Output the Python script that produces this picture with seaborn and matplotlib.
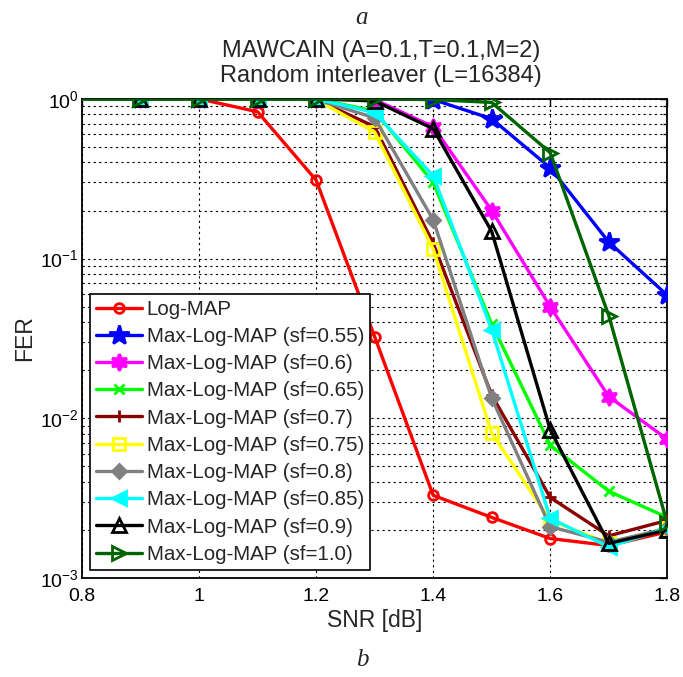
import numpy as np
import pandas as pd
import matplotlib
matplotlib.use("Agg")
import matplotlib.pyplot as plt
from matplotlib.ticker import LogLocator, NullFormatter, FixedLocator
import seaborn as sns

# SNR grid (dB)
snr = [0.8, 0.9, 1.0, 1.1, 1.2, 1.3, 1.4, 1.5, 1.6, 1.7, 1.8]

# Frame error rate per decoder
fer_logmap = [1.0, 1.0, 1.0, 0.83, 0.31, 0.0325, 0.0033, 0.0024, 0.00177, 0.0016, 0.00195]
fer_sf055 = [1.0, 1.0, 1.0, 1.0, 1.0, 1.0, 0.99, 0.75, 0.37, 0.127, 0.059]
fer_sf060 = [1.0, 1.0, 1.0, 1.0, 1.0, 0.99, 0.67, 0.20, 0.050, 0.0137, 0.0074]
fer_sf065 = [1.0, 1.0, 1.0, 1.0, 1.0, 0.84, 0.30, 0.039, 0.0068, 0.0035, 0.0024]
fer_sf070 = [1.0, 1.0, 1.0, 1.0, 0.99, 0.67, 0.125, 0.014, 0.0032, 0.00184, 0.0023]
fer_sf075 = [1.0, 1.0, 1.0, 1.0, 0.99, 0.62, 0.115, 0.0081, 0.0023, 0.00165, 0.00205]
fer_sf080 = [1.0, 1.0, 1.0, 1.0, 0.99, 0.76, 0.175, 0.0134, 0.0021, 0.00168, 0.00205]
fer_sf085 = [1.0, 1.0, 1.0, 1.0, 1.0, 0.82, 0.33, 0.036, 0.00237, 0.00157, 0.00205]
fer_sf090 = [1.0, 1.0, 1.0, 1.0, 1.0, 0.97, 0.65, 0.148, 0.0085, 0.00165, 0.0020]
fer_sf100 = [1.0, 1.0, 1.0, 1.0, 1.0, 1.0, 0.99, 0.95, 0.46, 0.044, 0.0022]

labels = [
    "Log-MAP",
    "Max-Log-MAP (sf=0.55)",
    "Max-Log-MAP (sf=0.6)",
    "Max-Log-MAP (sf=0.65)",
    "Max-Log-MAP (sf=0.7)",
    "Max-Log-MAP (sf=0.75)",
    "Max-Log-MAP (sf=0.8)",
    "Max-Log-MAP (sf=0.85)",
    "Max-Log-MAP (sf=0.9)",
    "Max-Log-MAP (sf=1.0)",
]
series = [fer_logmap, fer_sf055, fer_sf060, fer_sf065, fer_sf070,
          fer_sf075, fer_sf080, fer_sf085, fer_sf090, fer_sf100]

xticks = [0.8, 1.0, 1.2, 1.4, 1.6, 1.8]
xtick_labels = ["0.8", "1", "1.2", "1.4", "1.6", "1.8"]

# line styles per curve: colour, marker, size, face
styles = [
    ("#ff0000", "o", 7, "none"),
    ("#0000ff", "*", 15, "#0000ff"),
    ("#ff00ff", (6, 1, 0), 12, "#ff00ff"),
    ("#00ff00", "x", 7, "#00ff00"),
    ("#8b0000", "+", 9, "#8b0000"),
    ("#ffff00", "s", 8, "none"),
    ("#808080", "D", 7, "#808080"),
    ("#00ffff", "<", 10, "#00ffff"),
    ("#000000", "^", 10, "none"),
    ("#006400", ">", 10, "none"),
]

frames = []
for lab, vals in zip(labels, series):
    frames.append(pd.DataFrame({"SNR": snr, "FER": vals, "decoder": lab}))
df = pd.concat(frames, ignore_index=True)

sns.set_style("white")
plt.rcParams["font.family"] = ["Liberation Sans", "DejaVu Sans"]
plt.rcParams["mathtext.default"] = "regular"

fig = plt.figure(figsize=(6.83, 6.77), dpi=100)
ax = fig.add_axes([0.120, 0.146, 0.857, 0.708])

for lab, (col, mk, ms, fc) in zip(labels, styles):
    sub = df[df["decoder"] == lab]
    sns.lineplot(data=sub, x="SNR", y="FER", ax=ax, color=col, marker=mk,
                 markersize=ms, markerfacecolor=fc, markeredgecolor=col,
                 markeredgewidth=2.0, linewidth=2.4, label=lab,
                 errorbar=None, markevery=list(range(1, len(snr))),
                 clip_on=True, zorder=3)

ax.set_yscale("log")
ax.set_xlim(0.8, 1.8)
ax.set_ylim(1e-3, 1.0)
ax.xaxis.set_major_locator(FixedLocator(xticks))
ax.set_xticklabels(xtick_labels)
ax.yaxis.set_major_locator(LogLocator(base=10, numticks=10))
ax.yaxis.set_minor_locator(LogLocator(base=10, subs=np.arange(2, 10), numticks=20))
ax.yaxis.set_minor_formatter(NullFormatter())

ax.grid(True, which="major", axis="both", color="black", linestyle=(0, (2, 3)), linewidth=0.8)
ax.grid(True, which="minor", axis="y", color="black", linestyle=(0, (2, 3)), linewidth=0.8)
ax.set_axisbelow(True)

ax.tick_params(axis="both", which="both", direction="in", top=True, right=True,
               labelsize=14, colors="black")
ax.tick_params(axis="both", which="major", length=5, width=1)
ax.tick_params(axis="x", which="major", pad=7)
ax.tick_params(axis="y", which="major", pad=2)
ax.tick_params(axis="y", which="minor", length=3, width=1)
for sp in ax.spines.values():
    sp.set_color("black")
    sp.set_linewidth(1.3)

ax.set_xlabel("SNR [dB]", fontsize=16.5)
ax.xaxis.set_label_coords(0.5, -0.064)
ax.set_ylabel("FER", fontsize=16.5)
ax.yaxis.set_label_coords(-0.078, 0.5)
ax.set_title("MAWCAIN (A=0.1,T=0.1,M=2)\nRandom interleaver (L=16384)",
             fontsize=17, x=0.511, pad=12, linespacing=1.2)

leg = ax.legend(loc="lower left", fontsize=14.8, frameon=True, fancybox=False,
                edgecolor="black", framealpha=1, borderaxespad=0.4,
                handlelength=2.2, labelspacing=0.4, handletextpad=0.25,
                borderpad=0.3)
leg.get_frame().set_linewidth(1.2)

fig.text(0.529, 0.973, "a", ha="center", va="center", fontsize=18,
         family="Liberation Serif", style="italic")
fig.text(0.530, 0.025, "b", ha="center", va="center", fontsize=18,
         family="Liberation Serif", style="italic")

fig.savefig("out.png", dpi=100)
